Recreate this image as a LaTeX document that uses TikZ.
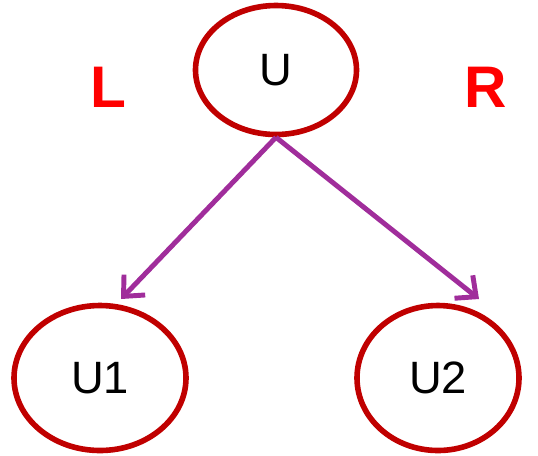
\documentclass[tikz,border=0pt]{standalone}
\usepackage{fontspec}
\setmainfont{Liberation Sans}
\usetikzlibrary{shapes.geometric,arrows.meta}

\definecolor{ovalred}{RGB}{192,0,0}
\definecolor{arrowpurple}{RGB}{160,45,155}
\tikzset{
  oval/.style={draw=ovalred, line width=4.2pt, ellipse, inner sep=0pt, font=\fontsize{34}{40}\selectfont},
  link/.style={draw=arrowpurple, line width=3.7pt, -{Straight Barb[length=12pt,width=22pt,line width=3.7pt]}},
  side/.style={text=red, font=\fontsize{44}{50}\selectfont\bfseries}
}

\begin{document}
\begin{tikzpicture}[x=0.75pt,y=0.75pt,yscale=-1,xscale=1]
\useasboundingbox (0,0) rectangle (538,455);

% Ovals
\node[oval, minimum width=161*0.75pt, minimum height=129*0.75pt] (U) at (276,70) {U};
\node[oval, minimum width=172*0.75pt, minimum height=145*0.75pt] (U1) at (100,378) {U1};
\node[oval, minimum width=162*0.75pt, minimum height=145*0.75pt] (U2) at (438,378) {U2};

% Side labels
\node[side] (L) at (108,87) {L};
\node[side] (R) at (486,87) {R};

% Arrow ends
\coordinate (u1tip) at (121,299);
\coordinate (u2tip) at (479,299);

% Arrows
\draw[link] (U.south) -- (u1tip);
\draw[link] (U.south) -- (u2tip);

\end{tikzpicture}
\end{document}
